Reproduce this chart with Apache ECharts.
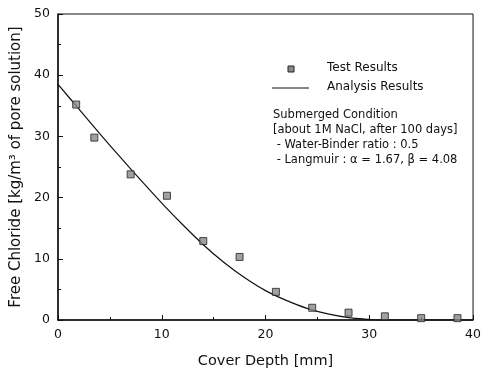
<!DOCTYPE html>
<html>
<head>
<meta charset="utf-8">
<script src="https://cdn.jsdelivr.net/npm/echarts@6/dist/echarts.min.js"></script>
<style>
  html, body { margin: 0; padding: 0; background: #fff; }
  #chart { width: 484px; height: 374px; }
</style>
</head>
<body>
<div id="chart"></div>
<script>
// test results: cover depth [mm] and free chloride
const depthTest = [1.75, 3.5, 7, 10.5, 14, 17.5, 21, 24.5, 28, 31.5, 35, 38.5];
const chlorideTest = [35.2, 29.8, 23.8, 20.3, 12.9, 10.3, 4.6, 2.0, 1.2, 0.6, 0.3, 0.3];

// analysis curve
const depthCurve = [0, 2, 4, 6, 8, 10, 12, 14, 16, 18, 20, 22, 24, 26, 28, 30, 31, 34, 37, 40];
const chlorideCurve = [38.5, 34.5, 30.5, 26.6, 22.8, 19.1, 15.6, 12.3, 9.4, 6.9, 4.8, 3.2, 1.9, 1.0, 0.4, 0.1, 0, 0, 0, 0];

const infoLines = [
  "Submerged Condition",
  "[about 1M NaCl, after 100 days]",
  " - Water-Binder ratio : 0.5",
  " - Langmuir : \u03b1 = 1.67, \u03b2 = 4.08"
];

const font = "DejaVu Sans";
const chart = echarts.init(document.getElementById("chart"));

const zip = (xs, ys) => xs.map((x, i) => [x, ys[i]]);

const infoText = infoLines.map((t, i) => ({
  type: "text",
  left: 273,
  top: 109 + i * 15,
  style: { text: t, font: "11.5px " + font, fill: "#111" }
}));

const option = {
  animation: false,
  backgroundColor: "#fff",
  grid: { left: 58, right: 7, top: 14, bottom: 53, show: true, borderColor: "#111", borderWidth: 1 },
  xAxis: {
    type: "value",
    min: 0, max: 40, interval: 10,
    name: "Cover Depth [mm]",
    nameLocation: "middle",
    nameGap: 34,
    nameTextStyle: { fontFamily: font, fontSize: 14.5, color: "#111" },
    axisLine: { lineStyle: { color: "#111", width: 1.5 } },
    axisTick: { inside: true, length: 5, lineStyle: { color: "#111" } },
    minorTick: { show: true, splitNumber: 2, length: 3, lineStyle: { color: "#111" } },
    axisLabel: { fontFamily: font, fontSize: 12.5, color: "#111", margin: 8 },
    splitLine: { show: false }
  },
  yAxis: {
    type: "value",
    min: 0, max: 50, interval: 10,
    name: "Free Chloride [kg/m\u00b3 of pore solution]",
    nameLocation: "middle",
    nameGap: 29,
    nameTextStyle: { fontFamily: font, fontSize: 15, color: "#111" },
    axisLine: { lineStyle: { color: "#111", width: 1.5 } },
    axisTick: { inside: true, length: 5, lineStyle: { color: "#111" } },
    minorTick: { show: true, splitNumber: 2, length: 3, lineStyle: { color: "#111" } },
    axisLabel: { fontFamily: font, fontSize: 12.5, color: "#111", margin: 8 },
    splitLine: { show: false }
  },
  series: [
    {
      name: "Analysis Results",
      type: "line",
      data: zip(depthCurve, chlorideCurve),
      smooth: 0.3,
      showSymbol: false,
      lineStyle: { color: "#111", width: 1.2 },
      z: 2
    },
    {
      name: "Test Results",
      type: "scatter",
      data: zip(depthTest, chlorideTest),
      symbol: "rect",
      symbolSize: 7,
      itemStyle: { color: "#8a8a8a", borderColor: "#222", borderWidth: 1 },
      z: 3
    }
  ],
  graphic: [
    { type: "rect", shape: { x: 288, y: 66, width: 6, height: 6 },
      style: { fill: "#8a8a8a", stroke: "#222", lineWidth: 1 } },
    { type: "text", left: 327, top: 62,
      style: { text: "Test Results", font: "12px " + font, fill: "#111" } },
    { type: "line", shape: { x1: 272, y1: 88, x2: 309, y2: 88 },
      style: { stroke: "#111", lineWidth: 1 } },
    { type: "text", left: 327, top: 81,
      style: { text: "Analysis Results", font: "12px " + font, fill: "#111" } }
  ].concat(infoText)
};

chart.setOption(option);
</script>
</body>
</html>
